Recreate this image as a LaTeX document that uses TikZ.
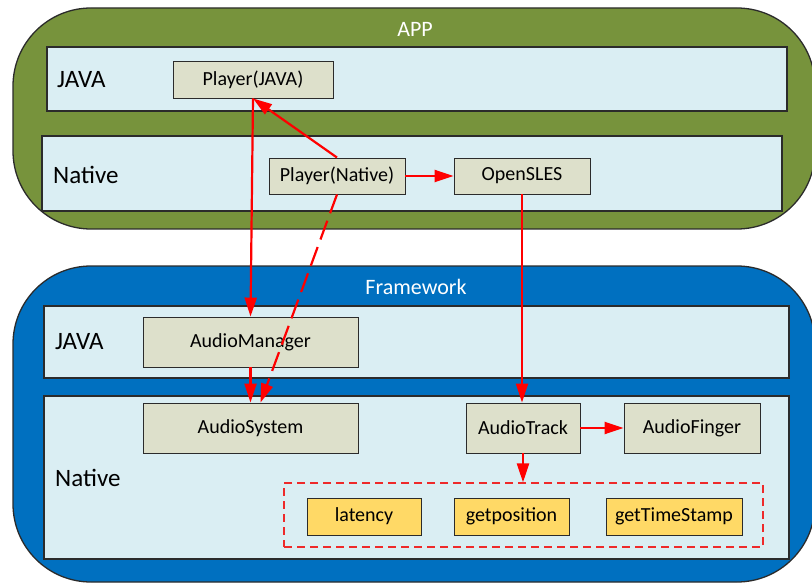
\documentclass[tikz,border=0pt]{standalone}
\usepackage{fontspec}
\setmainfont{Carlito}
\usetikzlibrary{arrows.meta}
\definecolor{appgreen}{HTML}{77933C}
\definecolor{fwblue}{HTML}{0070C0}
\definecolor{bandfill}{HTML}{DAEEF3}
\definecolor{boxfill}{HTML}{DDE0CB}
\definecolor{yellowbox}{HTML}{FFD966}
\definecolor{edge}{HTML}{2B2B2B}
\definecolor{linkred}{HTML}{FF0000}
\definecolor{groupred}{HTML}{EE2A2A}
\tikzset{
  layer/.style={draw=edge, line width=1.3pt, rounded corners=78pt},
  band/.style={draw=edge, line width=1.3pt, fill=bandfill},
  bandlabel/.style={anchor=west, inner sep=0pt, font=\fontsize{25}{28}\selectfont},
  layertitle/.style={text=white, font=\fontsize{22}{26}\selectfont},
  comp/.style={draw=edge, line width=0.9pt, fill=boxfill, inner sep=0pt,
    font=\fontsize{20}{24}\selectfont},
  call/.style={comp, fill=yellowbox},
  link/.style={draw=linkred, line width=2.2pt,
    -{Triangle[length=19pt,width=12pt]}},
}
\begin{document}
\begin{tikzpicture}[x=1pt,y=-1pt]
\useasboundingbox (0,0) rectangle (812,583);

% APP layer
\draw[layer, fill=appgreen] (13,8) rectangle (815,229);
\node[layertitle] (apptitle) at (415,29) {APP};
\draw[band] (47,47) rectangle (787,111);
\node[bandlabel] (appjava) at (57,80) {JAVA};
\draw[band] (42,136) rectangle (782,211);
\node[bandlabel] (appnative) at (53,175) {Native};

\node[comp, minimum width=160pt, minimum height=37pt] (pjava) at (253,79.5) {Player(JAVA)};
\node[comp, minimum width=136pt, minimum height=36pt] (pnative) at (337,176) {Player(Native)};
\node[comp, minimum width=136pt, minimum height=36pt] (opensles) at (522,176) {OpenSLES};

% Framework layer
\draw[layer, fill=fwblue] (13,266) rectangle (815,582);
\node[layertitle] (fwtitle) at (416,287) {Framework};
\draw[band] (44,306) rectangle (789,378);
\node[bandlabel] (fwjava) at (55,342) {JAVA};
\draw[band] (44,396) rectangle (789,559);
\node[bandlabel] (fwnative) at (55,478) {Native};

\node[comp, minimum width=215pt, minimum height=50pt] (amanager) at (250.5,342) {AudioManager};
\node[comp, minimum width=215pt, minimum height=50pt] (asystem) at (250.5,428) {AudioSystem};
\node[comp, minimum width=114pt, minimum height=50pt] (atrack) at (523,428) {AudioTrack};
\node[comp, minimum width=136pt, minimum height=50pt] (afinger) at (692,428) {AudioFinger};

% group of AudioTrack queries
\node[draw=groupred, line width=1.2pt, dash pattern=on 8pt off 5pt,
  minimum width=479pt, minimum height=64pt, inner sep=0pt] (group) at (523.5,515) {};
\node[call, minimum width=114pt, minimum height=37pt] (latency) at (364,516.5) {latency};
\node[call, minimum width=115pt, minimum height=37pt] (getpos) at (511.5,516.5) {getposition};
\node[call, minimum width=136pt, minimum height=37pt] (getts) at (674,516.5) {getTimeStamp};

% connectors
\draw[link] (pjava.south) -- (amanager.north);
\draw[link] (pnative.north) -- (pjava.south);
\draw[link] (pnative.east) -- (opensles.west);
\draw[link, dash pattern=on 20pt off 8pt] (pnative.south) -- ([xshift=10pt]asystem.north);
\draw[link] (amanager.south) -- (asystem.north);
\draw[link] (opensles.south) -- (opensles.south |- atrack.north);
\draw[link] (atrack.east) -- (afinger.west);
\draw[link] (atrack.south) -- (atrack.south |- group.north);
\end{tikzpicture}
\end{document}
